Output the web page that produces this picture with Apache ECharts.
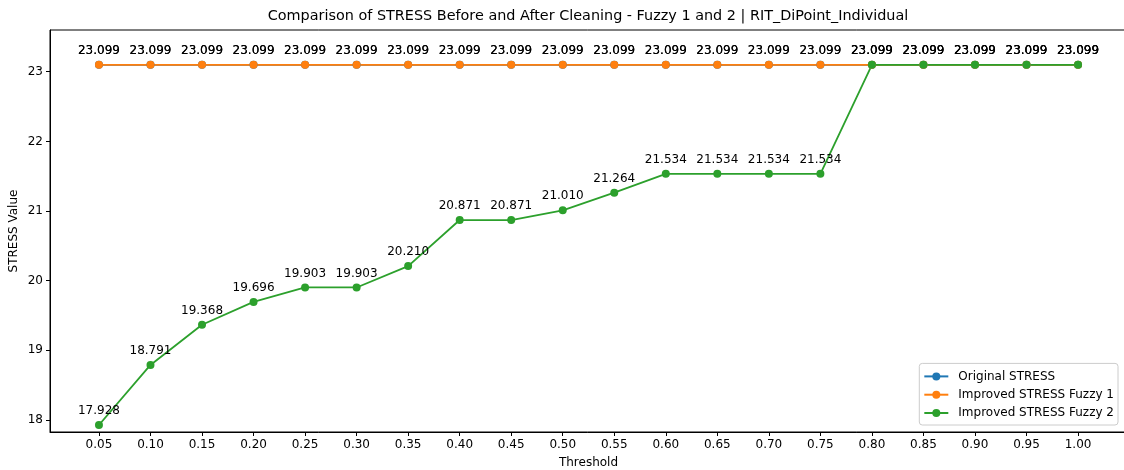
<!DOCTYPE html>
<html>
<head>
<meta charset="utf-8">
<script src="https://cdn.jsdelivr.net/npm/echarts@6/dist/echarts.min.js"></script>
<style>
  html, body { margin: 0; padding: 0; background: #fff; }
  #chart { width: 1124px; height: 470px; }
</style>
</head>
<body>
<div id="chart"></div>
<script>
// Thresholds and STRESS values per method
const thresholds = [0.05, 0.10, 0.15, 0.20, 0.25, 0.30, 0.35, 0.40, 0.45, 0.50,
                    0.55, 0.60, 0.65, 0.70, 0.75, 0.80, 0.85, 0.90, 0.95, 1.00];
const originalStress = [23.099, 23.099, 23.099, 23.099, 23.099, 23.099, 23.099, 23.099, 23.099, 23.099,
                        23.099, 23.099, 23.099, 23.099, 23.099, 23.099, 23.099, 23.099, 23.099, 23.099];
const fuzzy1Stress = [23.099, 23.099, 23.099, 23.099, 23.099, 23.099, 23.099, 23.099, 23.099, 23.099,
                      23.099, 23.099, 23.099, 23.099, 23.099, 23.099, 23.099, 23.099, 23.099, 23.099];
const fuzzy2Stress = [17.928, 18.791, 19.368, 19.696, 19.903, 19.903, 20.210, 20.871, 20.871, 21.010,
                      21.264, 21.534, 21.534, 21.534, 21.534, 23.099, 23.099, 23.099, 23.099, 23.099];
const yTicks = [18, 19, 20, 21, 22, 23];
const seriesNames = ['Original STRESS', 'Improved STRESS Fuzzy 1', 'Improved STRESS Fuzzy 2'];
const seriesColors = ['#1f77b4', '#ff7f0e', '#2ca02c'];

const FONT = 'DejaVu Sans';
const chart = echarts.init(document.getElementById('chart'), null, { renderer: 'canvas' });

function makeSeries(name, values, color) {
  return {
    name: name,
    type: 'line',
    data: thresholds.map((t, i) => [t, values[i]]),
    symbol: 'circle',
    symbolSize: 8,
    color: color,
    lineStyle: { width: 1.8, color: color },
    itemStyle: { color: color },
    emphasis: { disabled: true },
    animation: false,
    label: {
      show: true,
      position: 'top',
      distance: 4,
      color: '#000',
      fontFamily: FONT,
      fontSize: 12,
      formatter: p => p.value[1].toFixed(3)
    }
  };
}

const option = {
  backgroundColor: '#fff',
  animation: false,
  title: {
    text: 'Comparison of STRESS Before and After Cleaning - Fuzzy 1 and 2 | RIT_DiPoint_Individual',
    left: 588,
    textAlign: 'center',
    top: 9,
    padding: 0,
    textStyle: { fontFamily: FONT, fontSize: 14.4, fontWeight: 'normal', color: '#000' }
  },
  grid: {
    left: 50, right: -3, top: 30, bottom: 38,
    outerBoundsMode: 'none',
    containLabel: false,
    show: true, borderColor: '#000', borderWidth: 1, backgroundColor: 'transparent'
  },
  legend: {
    orient: 'vertical',
    right: 6,
    bottom: 45,
    data: seriesNames,
    itemWidth: 24,
    itemHeight: 10,
    itemGap: 4.3,
    padding: [6, 4, 5, 4],
    borderColor: '#ccc',
    borderWidth: 1,
    borderRadius: 3,
    backgroundColor: 'rgba(255,255,255,0.8)',
    textStyle: { fontFamily: FONT, fontSize: 12, color: '#000', lineHeight: 14, padding: [0, 0, 0, 5] }
  },
  xAxis: {
    type: 'value',
    min: 0.0025,
    max: 1.0475,
    name: 'Threshold',
    nameLocation: 'middle',
    nameGap: 25,
    nameMoveOverlap: false,
    nameTextStyle: { fontFamily: FONT, fontSize: 12, color: '#000' },
    axisLine: { show: true, onZero: false, lineStyle: { color: '#000', width: 1 } },
    axisTick: { show: true, length: 4, inside: false, customValues: thresholds, lineStyle: { color: '#000' } },
    axisLabel: {
      customValues: thresholds,
      margin: 7,
      fontFamily: FONT, fontSize: 12, color: '#000',
      formatter: v => v.toFixed(2)
    },
    splitLine: { show: false }
  },
  yAxis: {
    type: 'value',
    min: 17.828,
    max: 23.599,
    name: 'STRESS Value',
    nameLocation: 'middle',
    nameGap: 30,
    nameMoveOverlap: false,
    nameTextStyle: { fontFamily: FONT, fontSize: 12, color: '#000' },
    axisLine: { show: true, onZero: false, lineStyle: { color: '#000', width: 1 } },
    axisTick: { show: true, length: 4, customValues: yTicks, lineStyle: { color: '#000' } },
    axisLabel: {
      customValues: yTicks,
      margin: 7,
      fontFamily: FONT, fontSize: 12, color: '#000',
      formatter: v => String(v)
    },
    splitLine: { show: false }
  },
  series: [
    makeSeries(seriesNames[0], originalStress, seriesColors[0]),
    makeSeries(seriesNames[1], fuzzy1Stress, seriesColors[1]),
    makeSeries(seriesNames[2], fuzzy2Stress, seriesColors[2])
  ]
};

chart.setOption(option);
</script>
</body>
</html>
